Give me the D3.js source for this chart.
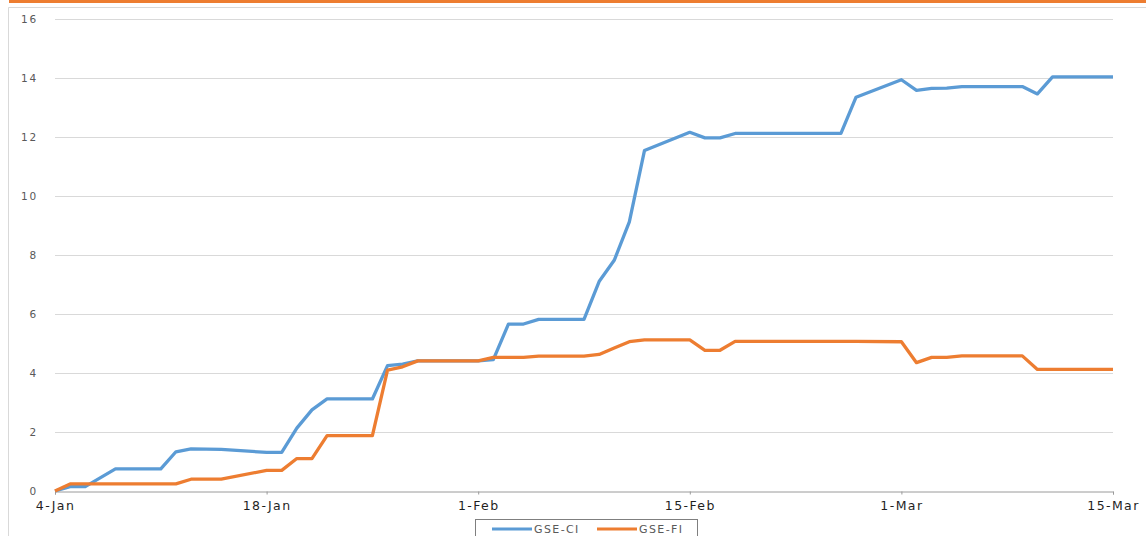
<!DOCTYPE html>
<html lang="en">
<head>
    <meta charset="UTF-8">
    <script src="https://d3js.org/d3.v7.min.js"></script>
    <style>
        body { margin: 0; background: #fff; }
        text { font-family: "DejaVu Sans", sans-serif; }
    </style>
    <title>GSE-CI vs GSE-FI</title>
</head>
<body>

<div id="chart"></div>

<script>
    const width = 1146;
    const height = 536;

    // trading days and YTD values (%)
    const dates = [
        "2021-01-04", "2021-01-05", "2021-01-06", "2021-01-08", "2021-01-11", "2021-01-12",
        "2021-01-13", "2021-01-14", "2021-01-15", "2021-01-18", "2021-01-19", "2021-01-20",
        "2021-01-21", "2021-01-22", "2021-01-25", "2021-01-26", "2021-01-27", "2021-01-28",
        "2021-01-29", "2021-02-01", "2021-02-02", "2021-02-03", "2021-02-04", "2021-02-05",
        "2021-02-08", "2021-02-09", "2021-02-10", "2021-02-11", "2021-02-12", "2021-02-15",
        "2021-02-16", "2021-02-17", "2021-02-18", "2021-02-19", "2021-02-22", "2021-02-23",
        "2021-02-24", "2021-02-25", "2021-02-26", "2021-03-01", "2021-03-02", "2021-03-03",
        "2021-03-04", "2021-03-05", "2021-03-08", "2021-03-09", "2021-03-10", "2021-03-11",
        "2021-03-12", "2021-03-15"
    ];
    const gseCI = [
        0, 0.15, 0.15, 0.75, 0.75, 1.33,
        1.43, 1.42, 1.41, 1.31, 1.31, 2.13,
        2.75, 3.12, 3.12, 4.25, 4.30, 4.41,
        4.41, 4.41, 4.45, 5.66, 5.66, 5.82,
        5.82, 7.10, 7.82, 9.12, 11.54, 12.16,
        11.97, 11.97, 12.12, 12.12, 12.12, 12.12,
        12.12, 12.12, 13.35, 13.94, 13.58, 13.65,
        13.66, 13.71, 13.71, 13.71, 13.46, 14.04,
        14.04, 14.04
    ];
    const gseFI = [
        0, 0.24, 0.24, 0.24, 0.24, 0.24,
        0.40, 0.40, 0.40, 0.70, 0.70, 1.10,
        1.10, 1.88, 1.88, 4.10, 4.21, 4.41,
        4.41, 4.41, 4.53, 4.53, 4.53, 4.57,
        4.57, 4.63, 4.85, 5.06, 5.12, 5.12,
        4.77, 4.77, 5.07, 5.07, 5.07, 5.07,
        5.07, 5.07, 5.07, 5.06, 4.35, 4.53,
        4.53, 4.58, 4.58, 4.58, 4.12, 4.12,
        4.12, 4.12
    ];
    const yTicks = [0, 2, 4, 6, 8, 10, 12, 14, 16];
    const xTicks = ["2021-01-04", "2021-01-18", "2021-02-01", "2021-02-15", "2021-03-01", "2021-03-15"];
    const seriesNames = ["GSE-CI", "GSE-FI"];
    const colors = ["#5B9BD5", "#ED7D31"];

    const parse = d3.timeParse("%Y-%m-%d");
    const series = [gseCI, gseFI].map(vals => vals.map((v, i) => ({ date: parse(dates[i]), value: v })));

    const svg = d3.select("#chart")
        .append("svg")
        .attr("width", width)
        .attr("height", height);

    // top orange band and frame
    svg.append("rect")
        .attr("x", 9).attr("y", 0)
        .attr("width", width - 9).attr("height", 3)
        .attr("fill", "#ED7D31");
    svg.append("path")
        .attr("d", `M8.5,${height} V7.5 H${width}`)
        .attr("fill", "none")
        .attr("stroke", "#d9d9d9");

    const x = d3.scaleTime()
        .domain([parse("2021-01-04"), parse("2021-03-15")])
        .range([55, 1113]);
    const y = d3.scaleLinear()
        .domain([0, 16])
        .range([491, 19]);

    // gridlines
    svg.selectAll(".grid")
        .data(yTicks.filter(t => t > 0))
        .enter().append("line")
        .attr("class", "grid")
        .attr("x1", x.range()[0]).attr("x2", x.range()[1])
        .attr("y1", d => Math.round(y(d)) + 0.5)
        .attr("y2", d => Math.round(y(d)) + 0.5)
        .attr("stroke", "#d9d9d9");

    // y labels
    svg.selectAll(".ylab")
        .data(yTicks)
        .enter().append("text")
        .attr("class", "ylab")
        .attr("x", 38)
        .attr("y", d => y(d) + 4)
        .attr("text-anchor", "end")
        .style("font-size", "10.5px")
        .style("letter-spacing", "1.8px")
        .attr("fill", "#595959")
        .text(d => d);

    // x axis
    const xAxis = d3.axisBottom(x)
        .tickValues(xTicks.map(parse))
        .tickFormat(d3.timeFormat("%-d-%b"))
        .tickSizeOuter(0)
        .tickSize(3)
        .tickPadding(7);
    const gx = svg.append("g")
        .attr("transform", "translate(0,491.5)")
        .call(xAxis);
    gx.select(".domain").attr("stroke", "#9a9a9a");
    gx.selectAll(".tick line").attr("stroke", "#9a9a9a");
    gx.selectAll(".tick text")
        .attr("fill", "#1f1f1f")
        .style("font-family", "DejaVu Sans, sans-serif")
        .style("font-size", "12.5px")
        .style("letter-spacing", "1.4px");

    // lines
    const line = d3.line()
        .x(d => x(d.date))
        .y(d => y(d.value));
    svg.selectAll(".series")
        .data(series)
        .enter().append("path")
        .attr("class", "series")
        .attr("d", line)
        .attr("fill", "none")
        .attr("stroke", (d, i) => colors[i])
        .attr("stroke-width", 3.3)
        .attr("stroke-linejoin", "round");

    // legend
    const legend = svg.append("g");
    legend.append("rect")
        .attr("x", 475.5).attr("y", 519.5)
        .attr("width", 222).attr("height", 22)
        .attr("fill", "#fff")
        .attr("stroke", "#7f7f7f");
    const items = legend.selectAll(".item")
        .data(seriesNames)
        .enter().append("g")
        .attr("transform", (d, i) => `translate(${492 + i * 105},529)`);
    items.append("line")
        .attr("x1", 0).attr("x2", 40)
        .attr("stroke", (d, i) => colors[i])
        .attr("stroke-width", 3);
    items.append("text")
        .attr("x", 42).attr("y", 4)
        .style("font-size", "11px")
        .style("letter-spacing", "1.4px")
        .attr("fill", "#595959")
        .text(d => d);
</script>

</body>
</html>
